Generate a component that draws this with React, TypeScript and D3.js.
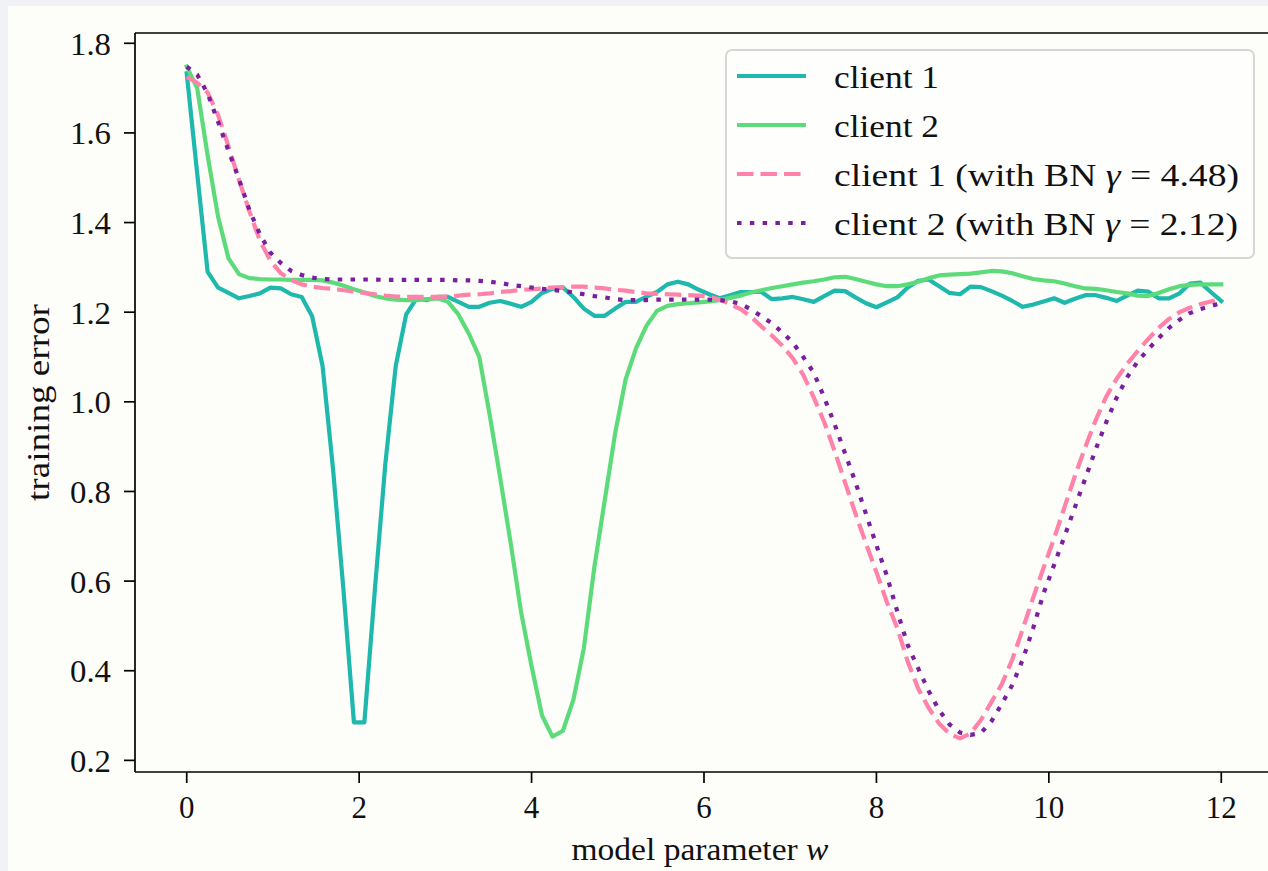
import React from "react";
import * as d3 from "d3";

// model parameter grid: 100 samples between 0 and 12
const W_GRID: number[] = d3.range(100).map((i) => (12 * i) / 99);

const CLIENT1: number[] = [
  1.733, 1.51, 1.29, 1.255, 1.243, 1.231, 1.236, 1.242, 1.255, 1.253,
  1.24, 1.234, 1.191, 1.08, 0.85, 0.58, 0.285, 0.285, 0.58, 0.86,
  1.08, 1.195, 1.231, 1.227, 1.234, 1.234, 1.223, 1.212, 1.212, 1.221,
  1.225, 1.219, 1.212, 1.223, 1.243, 1.252, 1.255, 1.234, 1.208, 1.192,
  1.192, 1.208, 1.223, 1.223, 1.235, 1.245, 1.262, 1.268, 1.262, 1.25,
  1.24, 1.231, 1.238, 1.245, 1.245, 1.245, 1.229, 1.231, 1.234, 1.229,
  1.223, 1.236, 1.248, 1.247, 1.233, 1.22, 1.211, 1.222, 1.233, 1.255,
  1.27, 1.273, 1.258, 1.243, 1.24, 1.257, 1.256, 1.247, 1.237, 1.225,
  1.212, 1.217, 1.224, 1.231, 1.221, 1.23, 1.238, 1.238, 1.232, 1.225,
  1.237, 1.248, 1.246, 1.231, 1.231, 1.242, 1.264, 1.266, 1.245, 1.225,
];

const CLIENT2: number[] = [
  1.748, 1.7, 1.55, 1.413, 1.32, 1.285, 1.276, 1.274, 1.273, 1.273,
  1.272, 1.272, 1.272, 1.271, 1.266, 1.259, 1.251, 1.244, 1.236, 1.231,
  1.228, 1.227, 1.227, 1.229, 1.231, 1.223, 1.195, 1.152, 1.1, 0.97,
  0.83, 0.685, 0.53, 0.41, 0.3, 0.253, 0.266, 0.335, 0.45, 0.63,
  0.78, 0.93, 1.05, 1.12, 1.17, 1.203, 1.214, 1.218, 1.22, 1.222,
  1.224, 1.227, 1.232, 1.237, 1.244, 1.249, 1.254, 1.258, 1.262, 1.266,
  1.269, 1.273, 1.278, 1.279, 1.274, 1.268, 1.262, 1.258, 1.258, 1.262,
  1.268, 1.276, 1.282, 1.284, 1.285, 1.286, 1.289, 1.292, 1.291, 1.287,
  1.28, 1.274, 1.271, 1.269, 1.264, 1.258, 1.253, 1.252, 1.249, 1.245,
  1.242, 1.237, 1.236, 1.243, 1.251, 1.258, 1.261, 1.262, 1.262, 1.262,
];

const CLIENT1_BN: number[] = [
  1.725, 1.712, 1.69, 1.64, 1.57, 1.495, 1.425, 1.36, 1.315, 1.287,
  1.272, 1.262, 1.257, 1.254, 1.252, 1.249, 1.246, 1.243, 1.24, 1.237,
  1.235, 1.234, 1.234, 1.234, 1.234, 1.235, 1.237, 1.239, 1.24, 1.242,
  1.245, 1.247, 1.25, 1.251, 1.253, 1.255, 1.256, 1.257, 1.257, 1.255,
  1.253, 1.25, 1.248, 1.245, 1.242, 1.241, 1.24, 1.239, 1.238, 1.237,
  1.234, 1.228, 1.218, 1.207, 1.19, 1.168, 1.148, 1.125, 1.097, 1.06,
  1.01, 0.955, 0.89, 0.82, 0.75, 0.684, 0.62, 0.553, 0.495, 0.42,
  0.36, 0.317, 0.282, 0.259, 0.249, 0.26, 0.29, 0.33, 0.37, 0.425,
  0.493, 0.563, 0.63, 0.695, 0.765, 0.835, 0.9, 0.96, 1.012, 1.052,
  1.085, 1.113, 1.14, 1.165, 1.185, 1.2, 1.21, 1.218, 1.224, 1.229,
];

const CLIENT2_BN: number[] = [
  1.748, 1.73, 1.688, 1.625, 1.56, 1.497, 1.428, 1.374, 1.333, 1.31,
  1.292, 1.283, 1.277, 1.274, 1.273, 1.273, 1.273, 1.273, 1.273, 1.272,
  1.272, 1.272, 1.272, 1.272, 1.272, 1.272, 1.271, 1.271, 1.27, 1.268,
  1.265, 1.261, 1.258, 1.255, 1.252, 1.25, 1.247, 1.244, 1.24, 1.236,
  1.233, 1.229, 1.227, 1.227, 1.227, 1.228, 1.228, 1.228, 1.228, 1.228,
  1.228, 1.227, 1.224, 1.219, 1.206, 1.191, 1.175, 1.155, 1.132, 1.1,
  1.065, 1.01, 0.95, 0.885, 0.82, 0.75, 0.68, 0.612, 0.532, 0.457,
  0.405, 0.355, 0.312, 0.28, 0.262, 0.257, 0.261, 0.287, 0.326, 0.368,
  0.425, 0.495, 0.573, 0.636, 0.7, 0.765, 0.83, 0.895, 0.955, 1.01,
  1.055, 1.09, 1.117, 1.142, 1.165, 1.183, 1.198, 1.207, 1.214, 1.22,
];

const X_TICKS: number[] = [0, 2, 4, 6, 8, 10, 12];
const Y_TICKS: number[] = [0.2, 0.4, 0.6, 0.8, 1.0, 1.2, 1.4, 1.6, 1.8];
const SERIES_NAMES: string[] = ["client 1", "client 2", "client 1", "client 2"];
const BN_GAMMA: (string | null)[] = [null, null, "4.48", "2.12"];
const X_LABEL = "model parameter ";
const Y_LABEL = "training error";

const COLORS = ["#1fb8ad", "#5ddb7b", "#ff82aa", "#7a1fa0"];
const DASHES = ["", "", "16.5,7", "4.5,8.3"];
const FONT = "'Liberation Serif', 'Times New Roman', serif";
// widths of the rendered strings in the reference (Computer Modern is wider)
const LEGEND_TEXT_W = [105, 105, 405, 404];

export default function App() {
  const width = 1268;
  const height = 871;
  const L = 135, T = 33, R = 1273, B = 772;
  const series = [CLIENT1, CLIENT2, CLIENT1_BN, CLIENT2_BN];
  const all = series.flat();
  const lo = d3.min(all) as number;
  const hi = d3.max(all) as number;
  const pad = (hi - lo) * 0.05;
  const x = d3.scaleLinear().domain([-0.6, 12.6]).range([L, R]);
  const y = d3.scaleLinear().domain([lo - pad, hi + pad]).range([B, T]);
  const line = d3
    .line<number>()
    .x((_, i) => x(W_GRID[i]))
    .y((d) => y(d));

  const fs = 31;
  const legX = 726, legY = 50, legW = 528, legH = 208;

  return (
    <div style={{ position: "fixed", left: 0, top: 0 }}>
      <svg width={width} height={height} style={{ display: "block" }}>
        <rect x={0} y={0} width={width} height={height} fill="#f1f2f6" />
        <rect x={8} y={6} width={width - 8} height={height - 6} fill="#fdfdf9" />
        <defs>
          <clipPath id="plotclip">
            <rect x={L} y={T} width={R - L} height={B - T} />
          </clipPath>
        </defs>
        <g clipPath="url(#plotclip)">
          {series.map((s, i) => (
            <path
              key={i}
              d={line(s) || ""}
              fill="none"
              stroke={COLORS[i]}
              strokeWidth={4.2}
              strokeDasharray={DASHES[i] || undefined}
              strokeLinejoin="round"
              strokeLinecap={DASHES[i] ? "butt" : "square"}
            />
          ))}
        </g>
        {/* spines */}
        <g stroke="#000" strokeWidth={1.7} fill="none">
          <line x1={L} y1={T} x2={R} y2={T} />
          <line x1={L} y1={B} x2={R} y2={B} />
          <line x1={L} y1={T} x2={L} y2={B} />
          <line x1={R} y1={T} x2={R} y2={B} />
        </g>
        {/* y ticks */}
        {Y_TICKS.map((t) => (
          <g key={"y" + t}>
            <line x1={L - 11} x2={L} y1={y(t)} y2={y(t)} stroke="#000" strokeWidth={1.7} />
            <text
              x={111}
              y={y(t) + 11.5}
              textAnchor="end"
              fontFamily={FONT}
              fontSize={fs}
              fill="#111"
              textLength={41}
              lengthAdjust="spacingAndGlyphs"
            >
              {d3.format(".1f")(t)}
            </text>
          </g>
        ))}
        {/* x ticks */}
        {X_TICKS.map((t) => (
          <g key={"x" + t}>
            <line x1={x(t)} x2={x(t)} y1={B} y2={B + 11} stroke="#000" strokeWidth={1.7} />
            <text
              x={x(t)}
              y={818}
              textAnchor="middle"
              fontFamily={FONT}
              fontSize={fs}
              fill="#111"
            >
              {String(t)}
            </text>
          </g>
        ))}
        <text
          x={(L + R) / 2 - 4}
          y={860}
          textAnchor="middle"
          fontFamily={FONT}
          fontSize={fs}
          fill="#111"
          textLength={257}
          lengthAdjust="spacingAndGlyphs"
        >
          {X_LABEL}
          <tspan fontStyle="italic">w</tspan>
        </text>
        <text
          transform={`translate(49, ${(T + B) / 2}) rotate(-90)`}
          textAnchor="middle"
          fontFamily={FONT}
          fontSize={fs}
          fill="#111"
          textLength={197}
          lengthAdjust="spacingAndGlyphs"
        >
          {Y_LABEL}
        </text>
        {/* legend */}
        <rect
          x={legX}
          y={legY}
          width={legW}
          height={legH}
          rx={6}
          fill="#fefefe"
          fillOpacity={0.85}
          stroke="#d6d6d6"
          strokeWidth={2}
        />
        {SERIES_NAMES.map((name, i) => {
          const cy = 76 + 49 * i;
          return (
            <g key={"leg" + i}>
              <line
                x1={737}
                x2={806}
                y1={cy}
                y2={cy}
                stroke={COLORS[i]}
                strokeWidth={4.2}
                strokeDasharray={DASHES[i] || undefined}
              />
              <text
                x={834}
                y={cy + 12}
                fontFamily={FONT}
                fontSize={fs}
                fill="#111"
                textLength={LEGEND_TEXT_W[i]}
                lengthAdjust="spacingAndGlyphs"
              >
                {name}
                {BN_GAMMA[i] ? (
                  <>
                    {" (with BN "}
                    <tspan fontStyle="italic">γ</tspan>
                    {" = " + BN_GAMMA[i] + ")"}
                  </>
                ) : null}
              </text>
            </g>
          );
        })}
      </svg>
    </div>
  );
}
